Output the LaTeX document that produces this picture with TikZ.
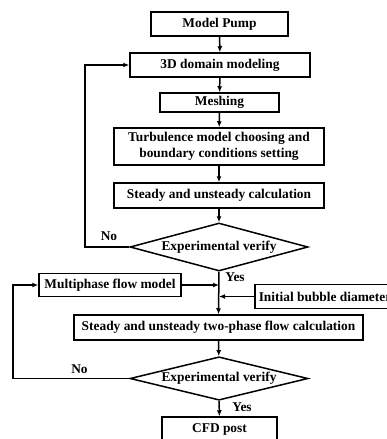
\documentclass[tikz,border=0pt]{standalone}
\usepackage{fontspec}
\setmainfont{Liberation Serif}
\usetikzlibrary{shapes.geometric,arrows.meta}
\begin{document}
\begin{tikzpicture}[x=1pt,y=-1pt,
  box/.style={draw,line width=1.5pt,rectangle,inner sep=0pt,font=\fontsize{13.4}{15.5}\selectfont\bfseries,align=center},
  dec/.style={draw,line width=1.5pt,diamond,aspect=3.7,inner sep=0pt,font=\fontsize{13.4}{15.5}\selectfont\bfseries},
  lab/.style={font=\fontsize{13.4}{15.5}\selectfont\bfseries,inner sep=0pt},
  conn/.style={line width=1.5pt,-{Latex[length=6pt,width=5pt]}},
  ln/.style={line width=1.5pt}]
\useasboundingbox (0,0) rectangle (387,439);
\clip (0,0) rectangle (387,439);
\node[box,minimum width=137pt,minimum height=24pt] (pump) at (219.5,24) {Model Pump};
\node[box,minimum width=180pt,minimum height=24pt] (dom) at (220,65) {3D domain modeling};
\node[box,minimum width=119pt,minimum height=19pt] (mesh) at (219.5,102.5) {Meshing};
\node[box,minimum width=210pt,minimum height=37pt] (turb) at (219,146.5) {Turbulence model choosing and\\boundary conditions setting};
\node[box,minimum width=210pt,minimum height=25pt] (steady) at (219,195.5) {Steady and unsteady calculation};
\node[dec,minimum width=178pt,minimum height=48pt] (dia1) at (219,247) {Experimental verify};
\node[box,minimum width=142pt,minimum height=23pt] (multi) at (110,285) {Multiphase flow model};
\node[box,minimum height=24pt,inner xsep=4pt,anchor=west] (bubble) at (254,296.5) {Initial bubble diameter};
\node[box,minimum width=289pt,minimum height=25pt] (two) at (218.5,327.5) {Steady and unsteady two-phase flow calculation};
\node[dec,minimum width=178pt,minimum height=43pt] (dia2) at (219,378.5) {Experimental verify};
\node[box,minimum width=115pt,minimum height=24pt] (cfd) at (219.5,429) {CFD post};
\coordinate (l1) at (85,247);
\coordinate (l2) at (13,378.5);
\node[lab] (no1) at (109,236) {No};
\node[lab] (yes1) at (235,277) {Yes};
\node[lab] (no2) at (79.5,369) {No};
\node[lab] (yes2) at (242,407) {Yes};
\draw[conn] (pump) -- (dom);
\draw[conn] (dom) -- (mesh);
\draw[conn] (mesh) -- (turb);
\draw[conn] (turb) -- (steady);
\draw[conn] (steady) -- (dia1);
\draw[conn] (dia1.west) -- (l1) |- (dom.west);
\draw[conn] (dia1.south) -- (two.north);
\draw[conn] (multi.east) -- (multi.east -| dia1.south);
\draw[conn] (bubble.west) -- (bubble.west -| dia1.south);
\draw[conn] (two) -- (dia2);
\draw[conn] (dia2.west) -- (l2) |- (multi.west);
\draw[conn] (dia2.south) -- (cfd.north);
\end{tikzpicture}
\end{document}
